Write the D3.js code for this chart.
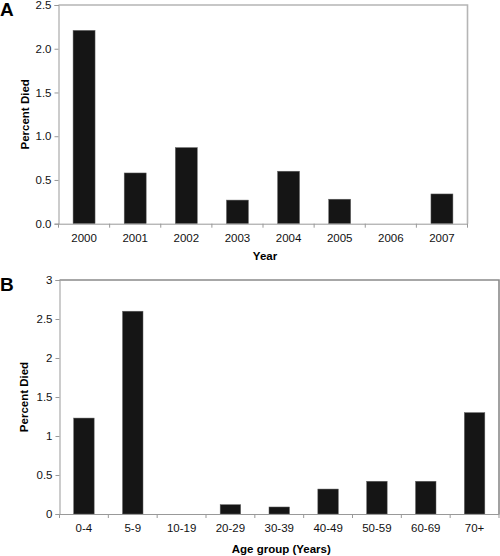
<!DOCTYPE html>
<html><head><meta charset="utf-8">
<script src="https://cdn.jsdelivr.net/npm/d3@7"></script>
<style>body{margin:0;background:#fff}svg{display:block}text{font-family:"Liberation Sans",Arial,sans-serif}</style>
</head><body>
<script>
const yearCats = ["2000","2001","2002","2003","2004","2005","2006","2007"];
const yearVals = [2.21,0.58,0.87,0.27,0.6,0.28,0,0.34];
const yearTicks = [0,0.5,1.0,1.5,2.0,2.5];
const ageCats = ["0-4","5-9","10-19","20-29","30-39","40-49","50-59","60-69","70+"];
const ageVals = [1.23,2.6,0,0.12,0.09,0.32,0.42,0.42,1.3];
const ageTicks = [0,0.5,1,1.5,2,2.5,3];

const svg = d3.select("body").append("svg").attr("width",500).attr("height",556);

function panel(o){
  const g = svg.append("g");
  const x = d3.scaleBand().domain(o.cats).range([o.left,o.right]).paddingInner(o.pad).paddingOuter(o.pad/2);
  const y = d3.scaleLinear().domain([0,o.max]).range([o.bottom,o.top]);
  g.append("path").attr("d",`M${o.left},${o.top}H${o.right}V${o.bottom}`)
    .attr("fill","none").attr("stroke",o.border).attr("stroke-width",1.6);
  g.selectAll("rect.bar").data(o.vals).join("rect").attr("class","bar")
    .attr("x",(d,i)=>x(o.cats[i])).attr("width",x.bandwidth())
    .attr("y",d=>y(d)).attr("height",d=>o.bottom-y(d))
    .attr("fill","#151515").attr("stroke","#666").attr("stroke-width",0.5);
  const ya = g.append("g").attr("transform",`translate(${o.left},0)`)
    .call(d3.axisLeft(y).tickValues(o.ticks).tickFormat(o.fmt).tickSize(4).tickPadding(3));
  ya.select(".domain").attr("stroke","#999");
  ya.selectAll(".tick line").attr("stroke","#999");
  ya.selectAll("text").attr("font-size",11.5).attr("fill","#111");
  const xa = g.append("g").attr("transform",`translate(0,${o.bottom})`)
    .call(d3.axisBottom(x).tickSize(0).tickPadding(10));
  xa.select(".domain").attr("stroke","#999");
  xa.selectAll("text").attr("font-size",11.5).attr("fill","#111");
  const bounds = d3.range(o.cats.length+1).map(i=>o.left+i*x.step());
  g.selectAll("line.bt").data(bounds).join("line").attr("class","bt")
    .attr("x1",d=>d).attr("x2",d=>d).attr("y1",o.bottom).attr("y2",o.bottom+4)
    .attr("stroke","#999");
  g.append("text").attr("transform",`translate(${o.ytx},${(o.top+o.bottom)/2}) rotate(-90)`)
    .attr("text-anchor","middle").attr("dy","0.35em").attr("font-size",11.5).attr("font-weight","bold").text("Percent Died");
  g.append("text").attr("x",(o.left+o.right)/2+2).attr("y",o.xty).attr("text-anchor","middle")
    .attr("font-size",11.5).attr("font-weight","bold").text(o.xtitle);
  g.append("text").attr("x",0).attr("y",o.top+10.5).attr("font-size",19).attr("font-weight","bold").text(o.letter);
}

panel({cats:yearCats,vals:yearVals,ticks:yearTicks,fmt:d3.format(".1f"),max:2.5,
  left:58.5,right:467.5,top:5,bottom:223.7,pad:0.57,border:"#b5b5b5",ytx:25,xty:260,xtitle:"Year",letter:"A"});
panel({cats:ageCats,vals:ageVals,ticks:ageTicks,fmt:d3.format(""),max:3,
  left:59.5,right:499,top:280,bottom:514,pad:0.58,border:"#8a8a8a",ytx:24,xty:553,xtitle:"Age group (Years)",letter:"B"});
</script>
</body></html>
